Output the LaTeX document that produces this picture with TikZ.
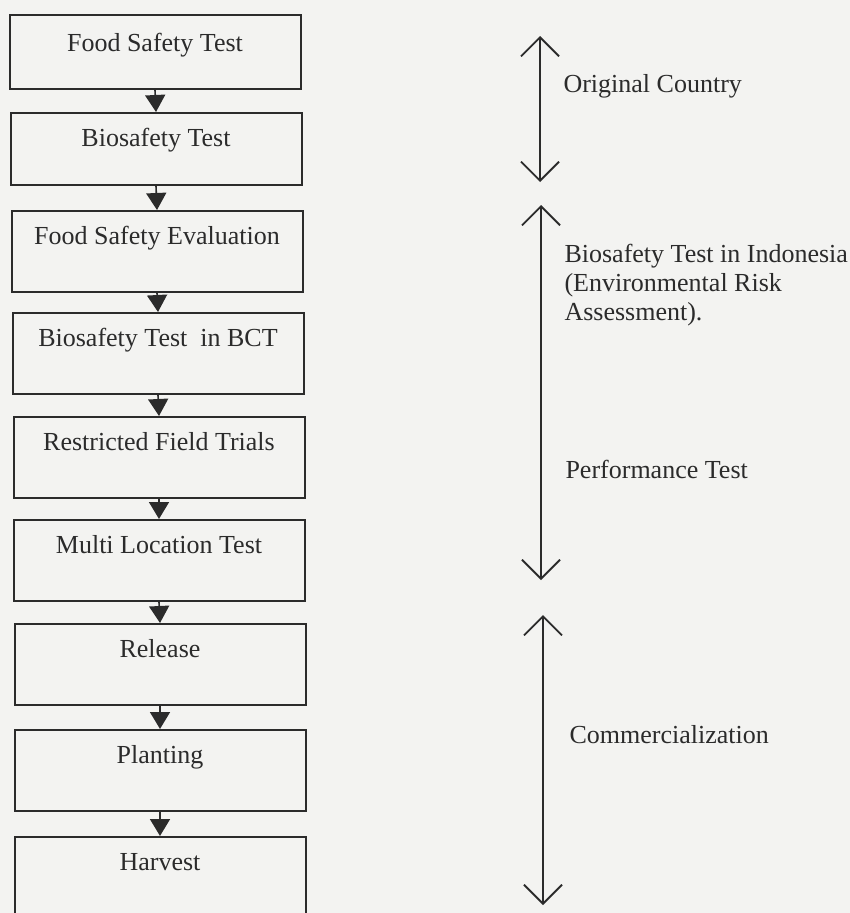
\documentclass[tikz,border=0pt]{standalone}
\usepackage{fontspec}
\setmainfont{Liberation Serif}
\usetikzlibrary{arrows.meta}
\definecolor{paper}{HTML}{F3F3F1}
\definecolor{ink}{HTML}{2B2B2B}
\begin{document}
\begin{tikzpicture}[x=1pt,y=-1pt,
  stage/.style={draw=ink, line width=2pt, rectangle, anchor=north,
    minimum width=291pt, inner xsep=0pt, inner ysep=0pt,
    text height=33pt, text depth=48pt, text=ink,
    font=\fontsize{26}{29}\selectfont},
  flow/.style={draw=ink, line width=1.6pt, -{Triangle[width=20pt,length=17pt]}},
  span/.style={draw=ink, line width=1.8pt,
    {Straight Barb[width=38pt,length=19pt,line width=1.8pt]}-{Straight Barb[width=38pt,length=19pt,line width=1.8pt]}},
  note/.style={anchor=base west, text=ink, align=left,
    font=\fontsize{26}{29}\selectfont}]
  \fill[paper] (0,0) rectangle (850,913);
  \useasboundingbox (0,0) rectangle (850,913);

  % process steps
  \node[stage, text height=36pt, text depth=38pt] (s1) at (155,14)  {Food Safety Test};
  \node[stage, text depth=39pt] (s2) at (156,112) {Biosafety Test};
  \node[stage] (s3) at (157,210) {Food Safety Evaluation};
  \node[stage] (s4) at (158,312) {Biosafety Test\ \ in BCT};
  \node[stage] (s5) at (159,416) {Restricted Field Trials};
  \node[stage] (s6) at (159,519) {Multi Location Test};
  \node[stage] (s7) at (160,623) {Release};
  \node[stage] (s8) at (160,729) {Planting};
  \node[stage] (s9) at (160,836) {Harvest};

  \foreach \a/\b in {s1/s2,s2/s3,s3/s4,s4/s5,s5/s6,s6/s7,s7/s8,s8/s9}
    \draw[flow] (\a.south) -- (\b.north);

  % phase ranges
  \coordinate (p1t) at (540,36);  \coordinate (p1b) at (540,182);
  \coordinate (p2t) at (541,205); \coordinate (p2b) at (541,580);
  \coordinate (p3t) at (543,615); \coordinate (p3b) at (543,905);
  \draw[span] (p1t) -- (p1b);
  \draw[span] (p2t) -- (p2b);
  \draw[span] (p3t) -- (p3b);

  \node[note] (n1) at (560,92)  {Original Country};
  % base of a multi-line node sits on its last line
  \node[note] (n2) at (561,320) {Biosafety Test in Indonesia\\(Environmental Risk\\Assessment).};
  \node[note] (n3) at (562,478) {Performance Test};
  \node[note] (n4) at (566,743) {Commercialization};
\end{tikzpicture}
\end{document}
